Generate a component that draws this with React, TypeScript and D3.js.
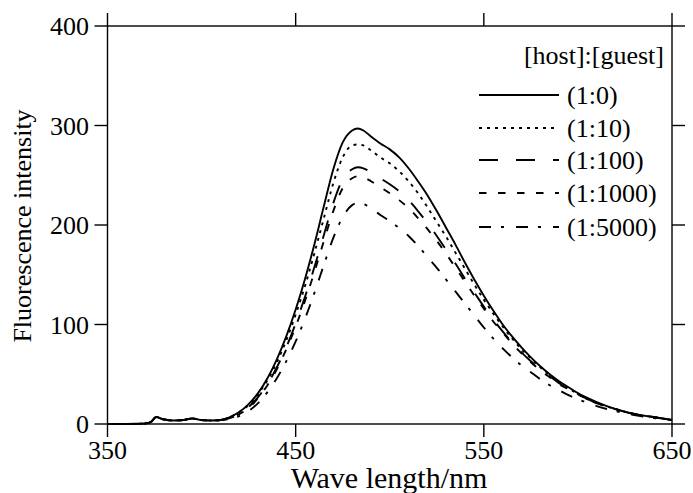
import React from "react";
import * as d3 from "d3";

const wavelengths = [350,360,370,373,376,379,385,390,395,400,405,410,415,420,425,430,435,440,445,450,455,460,465,470,475,480,483,486,490,495,500,505,510,515,520,525,530,535,540,545,550,555,560,565,570,575,580,585,590,595,600,610,620,630,640,650];

const lowPart = [0,0,0.5,2,7,5,3.5,4,5.5,4,3.5,4];

const s1_0 = [...lowPart,7,12,20,31,46,65,88,115,146,181,219,256,283,295,297,295,289,282,276,268,257,244,230,214,197,180,162,145,129,114,100,88,77,67,58,50,43,37,31,22,15,10,7,4];
const s1_10 = [...lowPart,7,12,19,30,44,62,84,110,139,172,207,242,268,280,281,280,275,268,262,254,244,232,218,203,188,172,156,140,125,111,98,86,75,66,57,49,42,36,30,21,15,10,7,4];
const s1_100 = [...lowPart,6,10,17,27,40,57,77,101,128,158,190,222,246,256,258,257,253,247,241,234,225,214,202,189,175,161,146,132,118,105,93,82,72,63,55,48,41,35,30,21,15,10,7,4];
const s1_1000 = [...lowPart,6,10,16,26,39,55,75,98,124,153,184,214,237,247,249,248,244,238,232,225,217,207,196,184,171,157,143,129,116,103,92,81,71,62,54,47,40,35,30,21,15,10,7,4];
const s1_5000 = [...lowPart,5,8,13,21,32,46,63,83,106,132,160,187,208,220,222,221,217,210,204,197,189,179,168,157,145,133,121,109,97,86,76,67,59,52,45,39,34,29,25,18,13,9,6,4];

const seriesLabels = ["(1:0)", "(1:10)", "(1:100)", "(1:1000)", "(1:5000)"];
const seriesValues = [s1_0, s1_10, s1_100, s1_1000, s1_5000];
const dashes = ["none", "3,5", "19,18", "7.5,11.5", "12,10,3,12"];

const xTicks = [350, 450, 550, 650];
const yTicks = [0, 100, 200, 300, 400];

const W = 693, H = 493;
const L = 107.5, R = 672, T = 26, B = 424;
const FONT = "'Liberation Serif', 'DejaVu Serif', serif";

export default function App() {
  const x = d3.scaleLinear().domain([350, 650]).range([L, R]);
  const y = d3.scaleLinear().domain([0, 400]).range([B, T]);
  const line = d3.line<number>()
    .x((_, i) => x(wavelengths[i]))
    .y((d) => y(d))
    .curve(d3.curveMonotoneX);
  const tick = 13;
  const legendY = [95, 128, 160, 193, 227];
  return (
    <svg width={W} height={H} style={{ position: "absolute", left: 0, top: 0, background: "#fff" }}>
      <rect x={0} y={0} width={W} height={H} fill="#fff" />
      <g stroke="#000" strokeWidth={1.4} fill="none">
        <rect x={L} y={T} width={R - L} height={B - T} />
        {xTicks.map((t) => (
          <g key={"x" + t}>
            <line x1={x(t)} x2={x(t)} y1={B} y2={B + tick} />
            <line x1={x(t)} x2={x(t)} y1={T} y2={T - tick} />
          </g>
        ))}
        {yTicks.map((t) => (
          <g key={"y" + t}>
            <line x1={L - tick} x2={L} y1={y(t)} y2={y(t)} />
            <line x1={R} x2={R + tick} y1={y(t)} y2={y(t)} />
          </g>
        ))}
      </g>
      <g fontFamily={FONT} fontSize={26} fill="#000">
        {xTicks.map((t) => (
          <text key={"xl" + t} x={x(t)} y={459} textAnchor="middle">{t}</text>
        ))}
        {yTicks.map((t) => (
          <text key={"yl" + t} x={89} y={y(t)} dy="0.35em" textAnchor="end">{t}</text>
        ))}
        <text transform="translate(31,226) rotate(-90)" textAnchor="middle">Fluorescence intensity</text>
        <text x={389} y={488} textAnchor="middle" fontSize={30}>Wave length/nm</text>
      </g>
      <g fill="none" stroke="#000" strokeWidth={1.9}>
        {seriesValues.map((vals, i) => (
          <path key={"s" + i} d={line(vals) || ""} strokeDasharray={dashes[i]} />
        ))}
      </g>
      <g fontFamily={FONT} fontSize={26} fill="#000">
        <text x={664} y={64} textAnchor="end">[host]:[guest]</text>
        {seriesLabels.map((lab, i) => (
          <g key={"lg" + i}>
            <line x1={479} x2={559} y1={legendY[i]} y2={legendY[i]} stroke="#000" strokeWidth={1.8} strokeDasharray={dashes[i]} />
            <text x={567} y={legendY[i]} dy="0.35em">{lab}</text>
          </g>
        ))}
      </g>
    </svg>
  );
}
